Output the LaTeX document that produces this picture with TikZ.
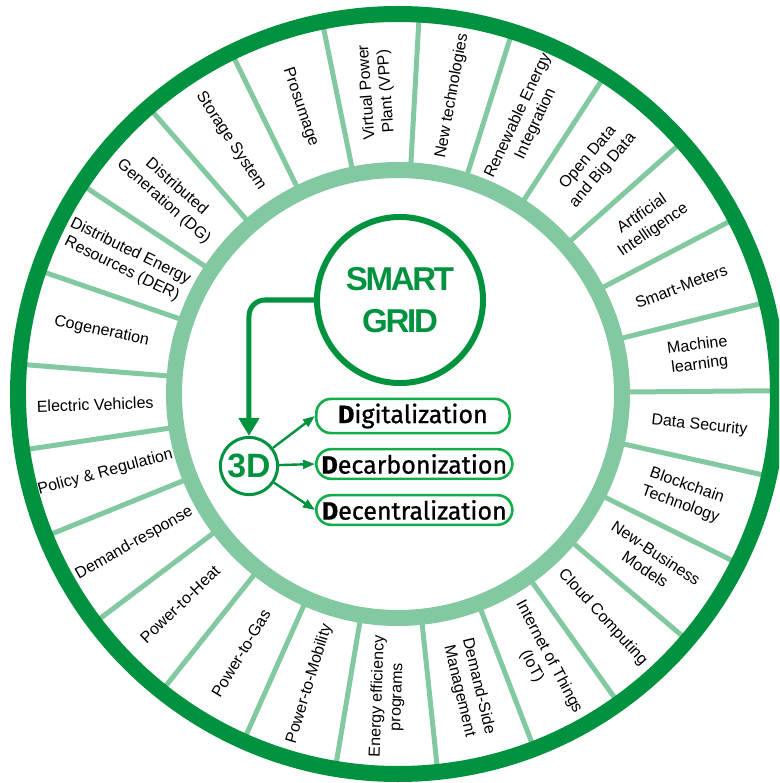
\documentclass[tikz,border=0pt]{standalone}
\usepackage{fontspec}
\setmainfont{Liberation Sans}
\newfontfamily\dinfont[FakeBold=0.9]{Fira Sans}
\usetikzlibrary{arrows.meta,positioning}
\definecolor{gridgreen}{HTML}{00923F}
\definecolor{ringgreen}{HTML}{82C8A0}
\definecolor{pillgreen}{HTML}{12AD4B}
\newcommand{\topicfont}{\fontsize{11.4}{13.9}\selectfont}

\begin{document}
\begin{tikzpicture}[x=0.025cm, y=0.025cm,
    ring/.style   = {line width=0.4cm},
    spoke/.style  = {draw=ringgreen, line width=0.125cm},
    topic/.style  = {align=center, font=\topicfont, inner sep=0pt},
    pill/.style   = {draw=pillgreen, line width=0.065cm, rounded corners=0.37cm,
                     minimum height=0.74cm, minimum width=4.9cm, anchor=west,
                     font=\dinfont\fontsize{17.8}{20}\selectfont},
    thin arrow/.style = {draw=gridgreen, line width=0.06cm,
                     -{Triangle[length=0.3cm,width=0.22cm]}},
  ]
  \useasboundingbox (-398,-389) rectangle (381,394);
  \clip (-398,-389) rectangle (381,394);

  % spokes between the two rings
  \foreach \a in {0.5,14,27.5,41.6,57,72.5,86.8,101.5,116,131,146.5,161,175.5,
                  188.5,202,217,231.5,246,260.5,276,291,305.5,319.6,333.5,347.5}
    \draw[spoke] (\a:226) -- (\a:376);

  % rings
  \draw[ring, gridgreen] (0,0) circle (380);
  \draw[ring, ringgreen] (0,0) circle (224);

  % topics, right half: text reads outwards
  \foreach \a/\t in {7.3/{Machine\\learning}, 20.8/{Smart-Meters},
                     34.5/{Artificial\\Intelligence}, 49.3/{Open Data\\and Big Data},
                     64.8/{Renewable Energy\\Integration}, 79.7/{New technologies},
                     94/{Virtual Power\\Plant  (VPP)}, 354/{Data Security},
                     340.5/{Blockchain\\Technology}, 326.5/{New-Business\\Models},
                     312.5/{Cloud Computing}, 298/{Internet of Things\\(IoT)},
                     283.5/{Demand-Side\\Management}}
    \node[topic, rotate=\a] at (\a:303) {\t};

  % topics, left half: text reads inwards
  \foreach \a/\t in {108.8/{Prosumage}, 123.5/{Storage System},
                     138.8/{Distributed\\Generation (DG)},
                     153.8/{Distributed Energy\\Resources (DER)},
                     168/{Cogeneration}, 182/{Electric Vehicles},
                     195/{Policy \& Regulation}, 209.5/{Demand-response},
                     224/{Power-to-Heat}, 238.8/{Power-to-Gas},
                     253/{Power-to-Mobility}, 268/{Energy efficiency\\programs}}
    \node[topic, rotate=\a-180] at (\a:303) {\t};

  % centre
  \node[circle, draw=gridgreen, line width=0.15cm, minimum size=4.15cm,
        text=gridgreen, align=center,
        font=\bfseries\fontsize{23.5}{30}\selectfont\addfontfeature{LetterSpace=-7}]
        (grid) at (2,94) {SMART\\GRID};
  \node[circle, draw=gridgreen, line width=0.075cm, minimum size=1.43cm,
        inner sep=0pt, text=gridgreen, font=\bfseries\fontsize{24}{24}\selectfont]
        (dd) at (-149,-72) {3D};

  \node[pill, minimum width=4.83cm] (digital)   at (-83,-22)  {\textbf{D}igitalization};
  \node[pill]                       (decarb)    at (-83,-70)  {\textbf{D}ecarbonization};
  \node[pill]                       (decentral) at (-83,-116) {\textbf{D}ecentralization};

  \draw[gridgreen, line width=0.125cm, rounded corners=0.4cm,
        -{Triangle[length=0.45cm,width=0.5cm]}] (grid.west) -| (dd.north);
  \draw[thin arrow] (dd) -- (digital.west);
  \draw[thin arrow] (dd) -- (decarb.west);
  \draw[thin arrow] (dd) -- (decentral.west);
\end{tikzpicture}
\end{document}
